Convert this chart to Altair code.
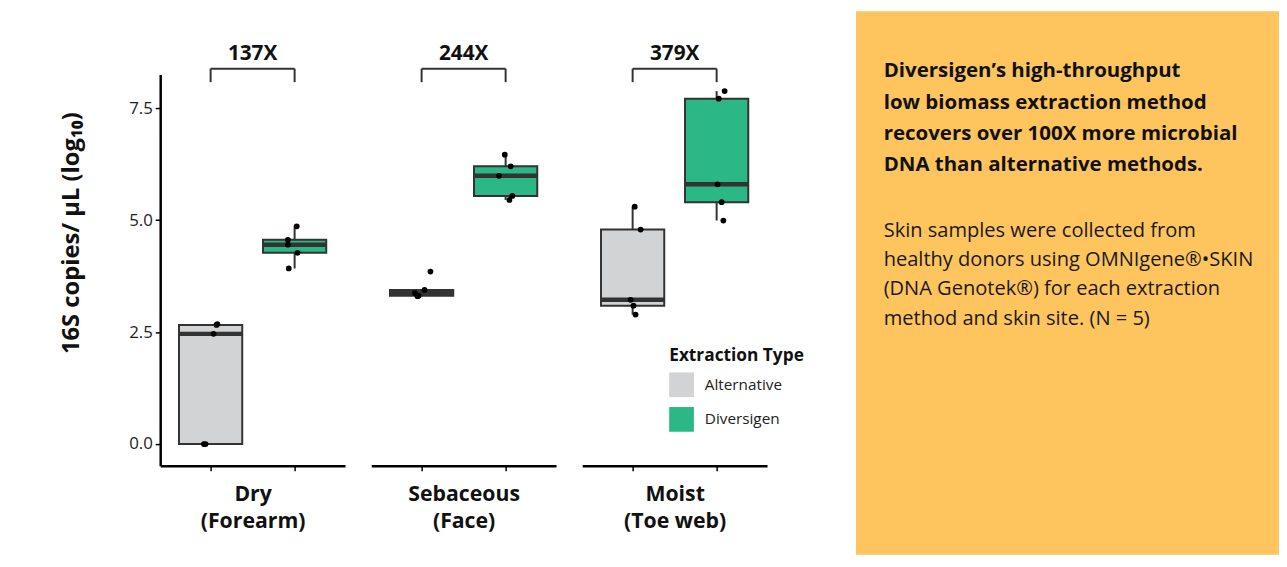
import altair as alt
import pandas as pd

# ---------------- data ----------------
sites = ["Dry", "Sebaceous", "Moist"]
site_titles = [["Dry", "(Forearm)"], ["Sebaceous", "(Face)"], ["Moist", "(Toe web)"]]
types = ["Alternative", "Diversigen"]
fold_labels = ["137X", "244X", "379X"]

dry_alt = [0.0, 0.0, 2.46, 2.66, 2.68]
dry_div = [4.86, 4.56, 4.45, 4.27, 3.92]
seb_alt = [3.85, 3.44, 3.37, 3.31, 3.30]
seb_div = [6.46, 6.20, 5.99, 5.54, 5.45]
moist_alt = [5.30, 4.79, 3.22, 3.09, 2.89]
moist_div = [7.88, 7.71, 5.80, 5.40, 4.99]

# horizontal jitter of the dots (fraction of half a category step)
dry_alt_j = [-0.16, -0.12, 0.07, 0.14, 0.16]
dry_div_j = [0.05, -0.16, -0.16, 0.07, -0.14]
seb_alt_j = [0.21, 0.07, -0.16, -0.07, -0.10]
seb_div_j = [-0.02, 0.12, -0.16, 0.16, 0.09]
moist_alt_j = [0.05, 0.19, -0.05, 0.02, 0.07]
moist_div_j = [0.19, 0.05, 0.02, 0.12, 0.16]

headline = ["Diversigen\u2019s high-throughput",
            "low biomass extraction method",
            "recovers over 100X more microbial",
            "DNA than alternative methods."]
body = ["Skin samples were collected from",
        "healthy donors using OMNIgene\u00ae\u2022SKIN",
        "(DNA Genotek\u00ae) for each extraction",
        "method and skin site. (N = 5)"]

rows = []
series = [
    ("Dry", "Alternative", dry_alt, dry_alt_j),
    ("Dry", "Diversigen", dry_div, dry_div_j),
    ("Sebaceous", "Alternative", seb_alt, seb_alt_j),
    ("Sebaceous", "Diversigen", seb_div, seb_div_j),
    ("Moist", "Alternative", moist_alt, moist_alt_j),
    ("Moist", "Diversigen", moist_div, moist_div_j),
]
for s, t, vals, js in series:
    for v, j in zip(vals, js):
        rows.append({"site": s, "type": t, "value": v, "jitter": j})
df = pd.DataFrame(rows)

brackets = pd.DataFrame({"site": sites, "type": ["Alternative"] * 3,
                         "type2": ["Diversigen"] * 3, "fold": fold_labels})

# ---------------- style ----------------
FONT = "Open Sans"
GRAY = "#D1D3D4"
GREEN = "#2BB786"
ORANGE = "#FEC45E"
DARK = "#333333"
W, H = 187, 396
STEP = 85
SP = 26.5
Y_DOM = [-0.487, 8.252]
LEFT, TOP = 154, 64
BOTTOM = H + 90

yscale = alt.Scale(domain=Y_DOM, nice=False, zero=False)
xscale = alt.Scale(domain=types, paddingInner=0, paddingOuter=0.1)
cscale = alt.Scale(domain=types, range=[GRAY, GREEN])

yaxis = alt.Axis(values=[0, 2.5, 5, 7.5], format=".1f", grid=False,
                 labelFont=FONT, labelFontSize=17, labelColor="#222222", labelPadding=3,
                 tickSize=5, tickColor="black", tickWidth=1.5,
                 domainColor="black", domainWidth=2.5,
                 title="16S copies/ \u00b5L (log\u2081\u2080)", titleFont=FONT, titleFontSize=24,
                 titleFontWeight="bold", titleColor="#111111",
                 titleX=-90, titleY=160, titleAngle=270, titleAlign="center", titleBaseline="middle")


def xaxis(i):
    return alt.Axis(labels=False, grid=False, tickSize=5, tickColor="black", tickWidth=1.5,
                    domainColor="black", domainWidth=2.5,
                    title=site_titles[i], titleFont=FONT, titleFontSize=21.5, titleFontWeight="bold",
                    titleColor="#111111", titleLineHeight=28, titlePadding=12)


def panel(i):
    site = sites[i]
    d = df[df.site == site]
    b = brackets[brackets.site == site]
    ya = yaxis if i == 0 else None
    xa = xaxis(i)
    base = alt.Chart(d)
    bb = alt.Chart(b)

    box = base.mark_boxplot(
        size=64, extent=1.5, outliers=False, ticks=False,
        box={"stroke": DARK, "strokeWidth": 2, "opacity": 1},
        median={"color": DARK, "thickness": 4.5, "opacity": 1},
        rule={"color": DARK, "strokeWidth": 2, "opacity": 1},
    ).encode(
        x=alt.X("type:N", scale=xscale, axis=xa),
        y=alt.Y("value:Q", scale=yscale, axis=ya),
        color=alt.Color("type:N", scale=cscale, legend=alt.Legend(
            orient="none", legendX=515, legendY=276, title="Extraction Type",
            titleFont=FONT, titleFontSize=17.5, titleFontWeight="bold", titleColor="#111111",
            titlePadding=8, labelFont=FONT, labelFontSize=15.5, labelColor="#222222",
            labelOffset=11, symbolType="square", symbolSize=625, symbolStrokeWidth=0,
            symbolOpacity=1, rowPadding=10, padding=0, offset=0)),
    )
    pts = base.mark_circle(size=34, color="black", opacity=1).encode(
        x=alt.X("type:N", scale=xscale, axis=xa),
        xOffset=alt.XOffset("jitter:Q", scale=alt.Scale(domain=[-1, 1])),
        y=alt.Y("value:Q", scale=yscale, axis=ya),
    )
    hbar = bb.mark_rule(color=DARK, strokeWidth=2).encode(
        x=alt.X("type:N", scale=xscale, axis=xa), x2="type2:N",
        y=alt.Y(datum=8.38, scale=yscale, axis=ya),
    )
    lt = bb.mark_rule(color=DARK, strokeWidth=2).encode(
        x=alt.X("type:N", scale=xscale, axis=xa),
        y=alt.Y(datum=8.38, scale=yscale, axis=ya), y2=alt.Y2(datum=8.08),
    )
    rt = bb.mark_rule(color=DARK, strokeWidth=2).encode(
        x=alt.X("type2:N", scale=xscale, axis=xa),
        y=alt.Y(datum=8.38, scale=yscale, axis=ya), y2=alt.Y2(datum=8.08),
    )
    lab = bb.mark_text(font=FONT, fontSize=21, fontWeight="bold", color="#111111",
                       dx=STEP / 2, baseline="middle", align="center").encode(
        x=alt.X("type:N", scale=xscale, axis=xa),
        y=alt.Y(datum=8.70, scale=yscale, axis=ya),
        text="fold:N",
    )
    layers = [box, pts, hbar, lt, rt, lab]
    if i == 0:
        edge = bb.mark_rect(color="white").encode(
            x=alt.value(-LEFT), x2=alt.value(-LEFT + 1), y=alt.value(-TOP), y2=alt.value(BOTTOM))
        layers = [edge] + layers
    return alt.layer(*layers).properties(width=W, height=H)


one = alt.Chart(pd.DataFrame({"k": [0]}))
X0 = 63.5        # gap between the last plot panel and the orange block
TW = 428         # width of the orange block
bg = one.mark_rect(color=ORANGE).encode(
    x=alt.value(X0), x2=alt.value(X0 + TW), y=alt.value(-TOP), y2=alt.value(BOTTOM))
head = one.mark_text(text=headline, font=FONT, fontSize=20.7, fontWeight="bold", color="#111111",
                     lineHeight=31.5, align="left", baseline="alphabetic").encode(
    x=alt.value(X0 + 28), y=alt.value(3))
bod = one.mark_text(text=body, font=FONT, fontSize=20.3, color="#1a1a1a",
                    lineHeight=29.8, align="left", baseline="alphabetic").encode(
    x=alt.value(X0 + 28), y=alt.value(164))
textpanel = alt.layer(bg, head, bod).properties(width=X0 + TW, height=H)

chart = alt.hconcat(panel(0), panel(1), panel(2), textpanel, spacing=SP, bounds="flush").resolve_scale(
    color="shared").properties(padding=0, background="white").configure_view(stroke=None)

chart.save("out.html", embed_options={"renderer": "svg", "actions": False})
